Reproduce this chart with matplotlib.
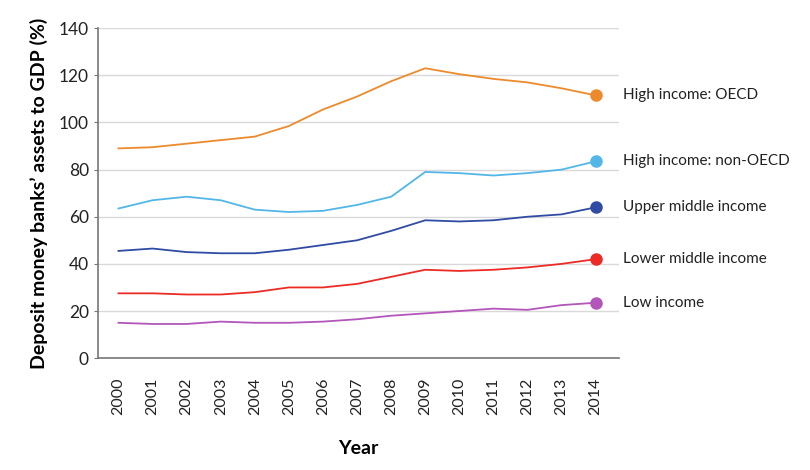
import numpy as np
import matplotlib
matplotlib.use("Agg")
import matplotlib.pyplot as plt

plt.rcParams['font.family'] = ['Lato', 'DejaVu Sans']

# Data (deposit money banks' assets to GDP, %)
years = list(range(2000, 2015))
high_oecd = [89, 89.5, 91, 92.5, 94, 98.5, 105.5, 111, 117.5, 123, 120.5, 118.5, 117, 114.5, 111.5]
high_non_oecd = [63.5, 67, 68.5, 67, 63, 62, 62.5, 65, 68.5, 79, 78.5, 77.5, 78.5, 80, 83.5]
upper_middle = [45.5, 46.5, 45, 44.5, 44.5, 46, 48, 50, 54, 58.5, 58, 58.5, 60, 61, 64]
lower_middle = [27.5, 27.5, 27, 27, 28, 30, 30, 31.5, 34.5, 37.5, 37, 37.5, 38.5, 40, 42]
low_income = [15, 14.5, 14.5, 15.5, 15, 15, 15.5, 16.5, 18, 19, 20, 21, 20.5, 22.5, 23.5]

series = [
    ("High income: OECD", high_oecd, "#EC8A2C"),
    ("High income: non-OECD", high_non_oecd, "#52B7E8"),
    ("Upper middle income", upper_middle, "#2F4BA3"),
    ("Lower middle income", lower_middle, "#EC2B25"),
    ("Low income", low_income, "#B256BA"),
]

fig = plt.figure(figsize=(8.1, 4.7), dpi=100)
ax = fig.add_axes([0.121, 0.238, 0.643, 0.702])

for name, vals, col in series:
    ax.plot(years, vals, color=col, lw=1.3)
    ax.plot(years[-1], vals[-1], 'o', color=col, ms=8)
    ax.annotate(name, xy=(years[-1], vals[-1]), xytext=(19.5, 0),
                textcoords='offset points', va='center', ha='left',
                fontsize=11, color='#222222', annotation_clip=False)

ax.set_xlim(1999.4, 2014.68)
ax.set_ylim(0, 140)
ax.set_yticks(np.arange(0, 141, 20))
ax.set_xticks(years)
ax.set_xticklabels([str(y) for y in years], rotation=90)
ax.tick_params(axis='x', length=0, pad=14, labelsize=11.5, colors='#222222')
ax.tick_params(axis='y', length=3, width=0.8, color='#777777', labelsize=12.5, colors='#222222')
ax.grid(axis='y', color='#d9d9d9', lw=1)
ax.set_axisbelow(True)
for s in ['top', 'right']:
    ax.spines[s].set_visible(False)
for s in ['left', 'bottom']:
    ax.spines[s].set_color('#777777')
    ax.spines[s].set_linewidth(1.2)

ax.set_xlabel("Year", fontsize=14, fontweight='bold', labelpad=18)
ax.set_ylabel("Deposit money banks\u2019 assets to GDP (%)", fontsize=14,
              fontweight='bold', labelpad=8)

fig.savefig("out.png", dpi=100)
